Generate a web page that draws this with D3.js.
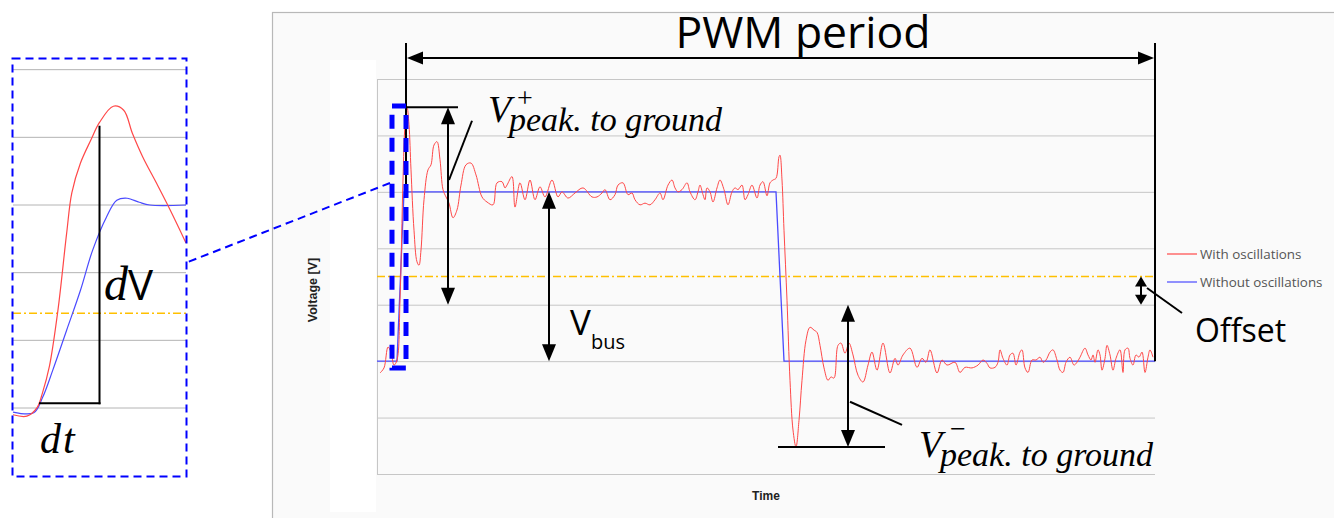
<!DOCTYPE html>
<html><head><meta charset="utf-8">
<script src="https://cdn.jsdelivr.net/npm/d3@7"></script>
<style>html,body{margin:0;padding:0;background:#fff;overflow:hidden}</style>
</head><body><svg id="c" width="1334" height="518"></svg>
<script>
// ---------- data (time in arbitrary units, voltage in V) ----------
const gridVolts = [-200,-100,0,100,200,300,400,500];
const vBus = 300, vLow = 0, vOffset = 150, vGround = 100;
const vPeakPlus = 450, vPeakMinus = -152;
const pwmStart = 0, pwmEnd = 750;
const blueT = [-28,-8,-1,371,379,750];
const blueV = [0,0,300,300,0,0];
const redT = [-25,-21,-17,-14,-11,-8,-5,-2,0,2,4,6,9,12,14,16,19,23,26,29,32,35,38,41,44,48,52,56,61,66,71,77,82,88,92,97,100,102,107,110,115,120,125,130,135,140,147,153,157,163,170,178,187,192,197,200,205,210,213,218,223,227,230,235,240,245,250,255,258,263,267,270,273,277,282,285,290,293,295,298,300,302,305,308,312,315,319,323,327,330,333,337,340,343,347,352,355,358,362,365,368,371,374,375,377,379,382,385,388,391,394,397,401,405,409,412,415,419,423,426,429,433,436,440,444,448,453,458,463,467,472,478,485,490,493,498,505,512,517,521,525,532,537,542,550,555,560,567,573,578,582,585,590,593,595,598,602,605,608,611,615,617,620,623,627,631,635,638,641,645,648,652,655,658,661,665,669,672,675,680,683,686,688,690,693,695,697,700,702,705,708,711,715,718,720,723,725,728,731,734,737,740,743,745,748];
const redV = [-21,-12,25,16,-7,2,108,321,419,451,419,339,232,176,170,197,286,339,348,383,389,357,304,291,280,254,268,312,348,351,330,291,282,277,316,318,307,312,327,273,316,286,321,286,309,291,321,291,300,289,298,307,291,291,298,304,286,295,312,316,295,298,286,277,280,277,286,298,286,312,321,307,300,304,316,300,286,300,312,295,286,307,300,282,307,321,304,277,300,307,304,312,286,295,312,289,312,318,293,316,321,324,362,365,321,232,108,-34,-122,-152,-105,-34,37,60,55,51,28,-12,-34,-28,-30,28,32,14,32,11,-25,-37,-7,16,-16,32,-21,5,-7,11,23,-11,5,-2,20,-21,2,-7,-2,-20,-11,-12,-7,2,-4,-12,-11,-2,20,5,-7,11,14,-7,16,20,-12,-20,2,2,7,-2,2,16,20,2,-16,-20,-2,7,-7,-2,7,23,11,2,11,-2,20,11,-16,5,28,11,-16,5,20,-20,20,23,5,-7,11,7,16,-20,7,20,7];
// zoom window on main chart
const zoomT = [-13, 1], zoomV = [-12, 452];
// inset (zoomed rising edge), time in % of window
const insetGrid = [0,100,200,300,400,500];
const insetOffset = 140;
const insetRedT = [0,8,14,17,21,26,31,34,39,45,50,58,64,69,75,83,91,100];
const insetRedV = [-10,-12,1,22,61,145,258,318,362,396,422,446,440,406,371,332,292,244];
const insetBlueT = [0,12,17,23,31,39,46,54,60,66,73,79,100];
const insetBlueV = [-6,-7,15,56,115,174,233,282,307,310,304,300,300];
const seriesNames = ["With oscillations","Without oscillations"];

// ---------- drawing ----------
const svg = d3.select("#c");
const x = d3.scaleLinear().domain([-28, 750]).range([377, 1155]);
const y = d3.scaleLinear().domain([-200, 500]).range([474, 79]);
const ix = d3.scaleLinear().domain([0, 100]).range([13, 186]);
const iy = d3.scaleLinear().domain([0, 300]).range([408, 205]);

const RED = "#ff4848", BLUE = "#4a4aff", GRID = "#c6c6c6", ORANGE = "#ffc000";

// panel
svg.append("rect").attr("x",272.5).attr("y",12.5).attr("width",1100).attr("height",600)
  .attr("fill","#fafafa").attr("stroke","#b8b8b8").attr("stroke-width",1.2);
svg.append("rect").attr("x",330).attr("y",60).attr("width",46).attr("height",452).attr("fill","#fff");

// gridlines
svg.append("g").selectAll("line").data(gridVolts).join("line")
  .attr("x1",x(-28)).attr("x2",x(750)).attr("y1",d=>y(d)+0.5).attr("y2",d=>y(d)+0.5)
  .attr("stroke",GRID).attr("stroke-width",1);
svg.append("line").attr("x1",x(-28)+0.5).attr("x2",x(-28)+0.5).attr("y1",y(500)).attr("y2",y(-200))
  .attr("stroke",GRID);
// offset line
svg.append("line").attr("x1",x(-28)).attr("x2",x(750)).attr("y1",y(vOffset)).attr("y2",y(vOffset))
  .attr("stroke",ORANGE).attr("stroke-width",1.5).attr("stroke-dasharray","8,3,2,3");

// series
const redData = redT.map((t,i)=>[t,redV[i]]);
const blueData = blueT.map((t,i)=>[t,blueV[i]]);
svg.append("path").datum(blueData).attr("fill","none").attr("stroke",BLUE).attr("stroke-width",1.3)
  .attr("d", d3.line().x(d=>x(d[0])).y(d=>y(d[1])));
svg.append("path").datum(redData).attr("fill","none").attr("stroke",RED).attr("stroke-width",1)
  .attr("d", d3.line().x(d=>x(d[0])).y(d=>y(d[1])).curve(d3.curveCatmullRom.alpha(0.5)));

// axis titles
svg.append("text").attr("transform",`translate(317,290) rotate(-90)`)
  .attr("text-anchor","middle").attr("font-family","Liberation Sans, Arial").attr("font-weight","bold")
  .attr("font-size",12.5).attr("fill","#222").text("Voltage [V]");
svg.append("text").attr("x",(x(-28)+x(750))/2).attr("y",500).attr("text-anchor","middle")
  .attr("font-family","Liberation Sans, Arial").attr("font-weight","bold").attr("font-size",12)
  .attr("fill","#222").text("Time");

// legend
const legend = svg.append("g");
[RED, BLUE].forEach((c,i)=>{
  const ly = 254 + i*28;
  legend.append("line").attr("x1",1167).attr("x2",1197).attr("y1",ly).attr("y2",ly).attr("stroke",c).attr("stroke-width",1.2);
  legend.append("text").attr("x",1200).attr("y",ly+4.5).attr("font-family","Open Sans").attr("font-size",13.4)
    .attr("fill","#555").text(seriesNames[i]);
});

// helpers
const K = "#000";
function line(x1,y1,x2,y2,w=2){svg.append("line").attr("x1",x1).attr("y1",y1).attr("x2",x2).attr("y2",y2).attr("stroke",K).attr("stroke-width",w);}
function head(tx,ty,dir,len,hw){
  let p;
  if(dir==="up") p=[[tx,ty],[tx-hw,ty+len],[tx+hw,ty+len]];
  if(dir==="down") p=[[tx,ty],[tx-hw,ty-len],[tx+hw,ty-len]];
  if(dir==="left") p=[[tx,ty],[tx+len,ty-hw],[tx+len,ty+hw]];
  if(dir==="right") p=[[tx,ty],[tx-len,ty-hw],[tx-len,ty+hw]];
  svg.append("path").attr("d","M"+p.join("L")+"Z").attr("fill",K);
}
function vArrow(t,v1,v2,len=17,hw=7){
  const ya=y(v1), yb=y(v2);
  line(x(t),ya+len-2,x(t),yb-len+2);
  head(x(t),ya,"up",len,hw); head(x(t),yb,"down",len,hw);
}
const serif = "Liberation Serif, Times New Roman, serif";
// math label: V with superscript and subscript, one text element
function mathLabel(x0, base, sup, supDx, supDy){
  const t = svg.append("text").attr("font-family",serif).attr("fill","#000");
  t.append("tspan").attr("x",x0).attr("y",base).attr("font-style","italic").attr("font-size",38).text("V");
  t.append("tspan").attr("x",x0+supDx).attr("y",base+supDy).attr("font-size",28).text(sup);
  t.append("tspan").attr("x",x0+21).attr("y",base+9).attr("font-style","italic").attr("font-size",34).text("peak. to ground");
}

// PWM period
const pwmY = 58;
line(x(pwmStart)+1,43,x(pwmStart)+1,y(vBus));
line(x(pwmEnd),43,x(pwmEnd),y(vLow));
line(x(pwmStart)+14,pwmY,x(pwmEnd)-14,pwmY);
head(x(pwmStart)+2,pwmY,"left",16,6.5); head(x(pwmEnd)-1,pwmY,"right",16,6.5);
svg.append("text").attr("x",803).attr("y",48).attr("text-anchor","middle")
  .attr("font-family","Open Sans").attr("font-size",44.5).attr("fill","#000").text("PWM period");

// V+ peak
line(x(2),y(vPeakPlus),x(53),y(vPeakPlus));
vArrow(43,vPeakPlus,vGround);
line(x(44),y(321),x(67),y(426));
mathLabel(x(83), 122, "+", 29, -15);

// Vbus
vArrow(144,vBus,vLow);
const vb = svg.append("text").attr("font-family","Open Sans").attr("fill","#000");
vb.append("tspan").attr("x",x(165)).attr("y",335).attr("font-size",35).text("V");
vb.append("tspan").attr("x",x(186)).attr("y",349).attr("font-size",20).text("bus");

// V- peak
line(x(373),y(vPeakMinus),x(480),y(vPeakMinus));
vArrow(443,vGround,vPeakMinus);
line(x(445),y(-72),x(497),y(-113));
mathLabel(x(514), 457, "\u2212", 31, -19);

// Offset
vArrow(736,vOffset,vGround,10,6);
line(1147,288,1182,313);
svg.append("text").attr("x",1195).attr("y",342).attr("font-family","Open Sans").attr("font-size",32).text("Offset");

// zoom window on main chart
svg.append("rect").attr("x",x(zoomT[0])).attr("y",y(zoomV[1])).attr("width",x(zoomT[1])-x(zoomT[0]))
  .attr("height",y(zoomV[0])-y(zoomV[1])).attr("fill","none").attr("stroke","#0000ff")
  .attr("stroke-width",5).attr("stroke-dasharray","14,9");
// connector
svg.append("line").attr("x1",x(zoomT[0])-2).attr("y1",183).attr("x2",188).attr("y2",262)
  .attr("stroke","#0000ff").attr("stroke-width",2).attr("stroke-dasharray","8,5");

// ---------- inset ----------
svg.append("g").selectAll("line").data(insetGrid).join("line")
  .attr("x1",ix(0)).attr("x2",ix(100)).attr("y1",d=>iy(d)).attr("y2",d=>iy(d))
  .attr("stroke","#b4b4b4").attr("stroke-width",1);
svg.append("line").attr("x1",ix(0)).attr("x2",ix(100)).attr("y1",iy(insetOffset)).attr("y2",iy(insetOffset))
  .attr("stroke",ORANGE).attr("stroke-width",1.5).attr("stroke-dasharray","8,3,2,3");
svg.append("path").datum(insetBlueT.map((t,i)=>[t,insetBlueV[i]])).attr("fill","none").attr("stroke",BLUE)
  .attr("stroke-width",1.2).attr("d", d3.line().x(d=>ix(d[0])).y(d=>iy(d[1])).curve(d3.curveCatmullRom));
svg.append("path").datum(insetRedT.map((t,i)=>[t,insetRedV[i]])).attr("fill","none").attr("stroke",RED)
  .attr("stroke-width",1.2).attr("d", d3.line().x(d=>ix(d[0])).y(d=>iy(d[1])).curve(d3.curveCatmullRom));
// dt / dV triangle
line(ix(15),iy(7),ix(50)+1,iy(7),2);
line(ix(50),iy(7)+1,ix(50),iy(417),2);
const dv = svg.append("text").attr("fill","#000");
dv.append("tspan").attr("x",104).attr("y",300).attr("font-family",serif).attr("font-style","italic").attr("font-size",48).text("d");
dv.append("tspan").attr("x",128).attr("y",300).attr("font-family","Open Sans").attr("font-size",42).text("V");
svg.append("text").attr("x",40).attr("y",453).attr("font-family",serif).attr("font-style","italic")
  .attr("font-size",42).attr("letter-spacing",2).text("dt");
svg.append("rect").attr("x",12.5).attr("y",58.5).attr("width",174).attr("height",418)
  .attr("fill","none").attr("stroke","#0000ff").attr("stroke-width",2).attr("stroke-dasharray","8,5");
</script></body></html>
